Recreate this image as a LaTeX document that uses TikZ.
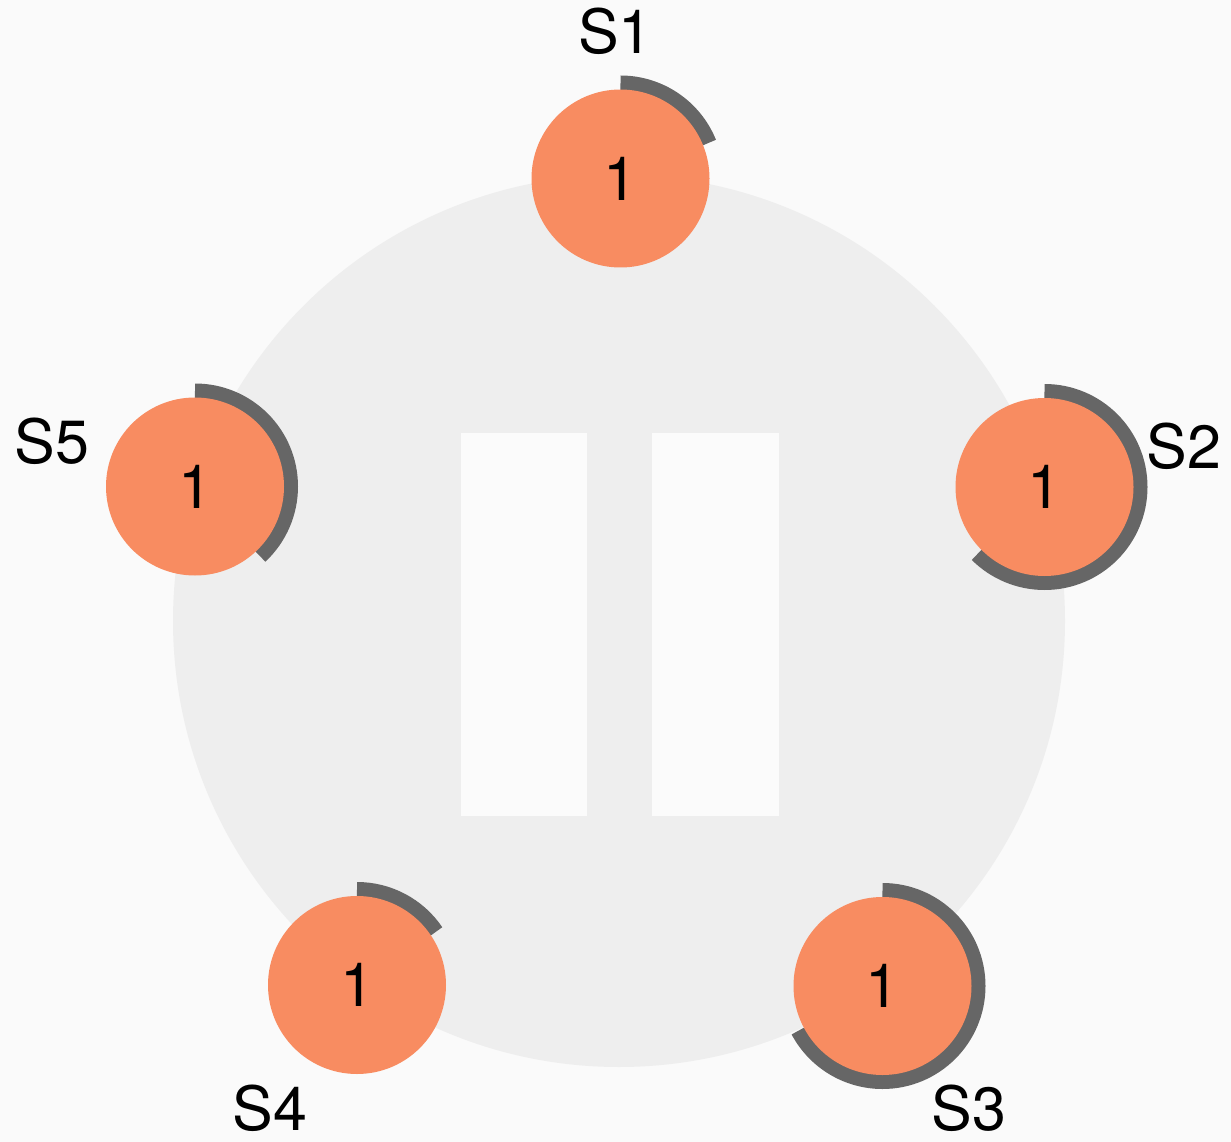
\documentclass[tikz,border=0pt]{standalone}
\usepackage{fontspec}
\setmainfont{TeX Gyre Heros}
\usepackage{tikz}
\usepackage{xcolor}
\usetikzlibrary{positioning}

\definecolor{pagebg}{HTML}{FAFAFA}
\definecolor{ringbg}{HTML}{EEEEEE}
\definecolor{barbg}{HTML}{FBFBFB}
\definecolor{srvfill}{HTML}{F88C61}
\definecolor{timer}{HTML}{666666}

\begin{document}
\begin{tikzpicture}[
    server/.style={circle, fill=srvfill, minimum size=3.56cm, inner sep=0pt, font=\fontsize{34.7}{40}\selectfont},
    srvname/.style={inner sep=0pt, font=\fontsize{34.7}{40}\selectfont},
    timerarc/.style={draw=timer, line width=0.30cm}
]
            \fill[pagebg] (0, 0) rectangle (24.62, -22.84);
            \useasboundingbox (0, 0) rectangle (24.62, -22.84);

            \fill[ringbg] (12.38, -12.42) circle (8.92);
            \fill[barbg] (9.22, -8.66) rectangle (11.74, -16.32);
            \fill[barbg] (13.04, -8.66) rectangle (15.58, -16.32);

            \coordinate (c1) at (12.41, -3.57);
            \coordinate (c2) at (20.89, -9.74);
            \coordinate (c3) at (17.65, -19.72);
            \coordinate (c4) at (7.14, -19.70);
            \coordinate (c5) at (3.90, -9.73);

            \draw[timerarc] (c1) ++(90:1.91) arc[start angle=90, end angle=22, radius=1.91];
            \draw[timerarc] (c2) ++(90:1.91) arc[start angle=90, end angle=-135, radius=1.91];
            \draw[timerarc] (c3) ++(90:1.91) arc[start angle=90, end angle=-152, radius=1.91];
            \draw[timerarc] (c4) ++(90:1.91) arc[start angle=90, end angle=34, radius=1.91];
            \draw[timerarc] (c5) ++(90:1.91) arc[start angle=90, end angle=-47, radius=1.91];

            \node[server] (s1) at (c1) {1};
            \node[server] (s2) at (c2) {1};
            \node[server] (s3) at (c3) {1};
            \node[server] (s4) at (c4) {1};
            \node[server] (s5) at (c5) {1};

            \node[srvname] (n1) at (12.31, -0.63) {S1};
            \node[srvname] (n2) at (23.68, -8.92) {S2};
            \node[srvname] (n3) at (19.38, -22.16) {S3};
            \node[srvname] (n4) at (5.40, -22.16) {S4};
            \node[srvname] (n5) at (1.04, -8.82) {S5};
        \end{tikzpicture}
\end{document}
